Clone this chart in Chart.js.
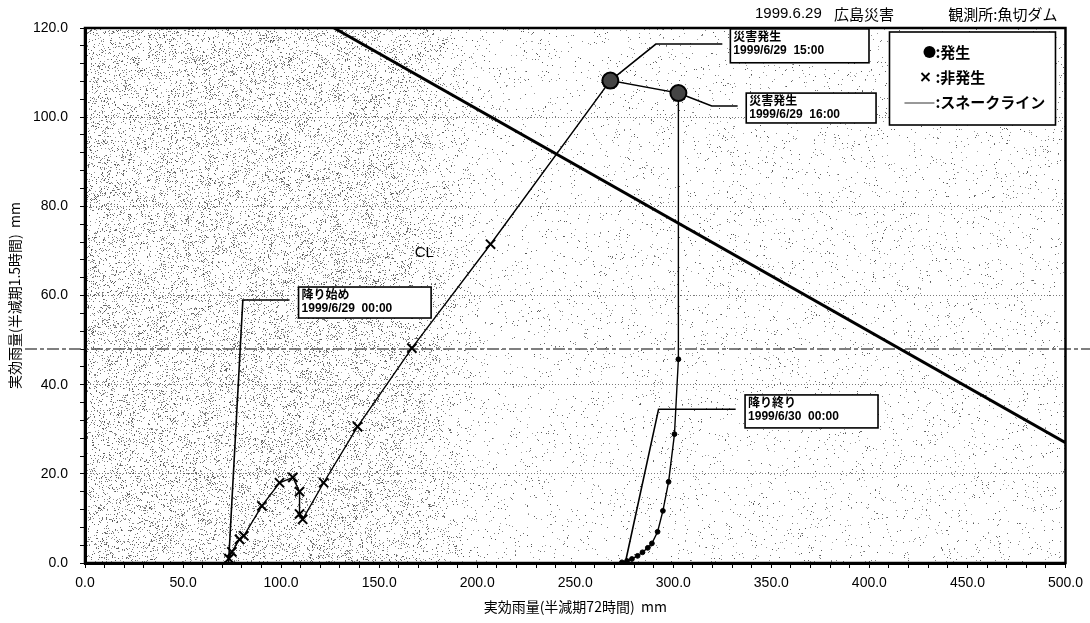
<!DOCTYPE html>
<html>
<head>
<meta charset="utf-8">
<script src="https://cdn.jsdelivr.net/npm/chart.js@4.4.1/dist/chart.umd.min.js"></script>
<style>
  html, body { margin: 0; padding: 0; background: #fff; }
  #wrap { width: 1090px; height: 623px; position: relative; }
</style>
</head>
<body>
<div id="wrap"><canvas id="c" width="1090" height="623"></canvas></div>
<script>
// 実効雨量の推移 (×: 非発生) 1999/6/29 00:00 以降
const rainX = [73.4, 74.9, 78.8, 81.0, 90.2, 99.2, 106.0, 109.4, 109.4, 111.0, 121.7, 139.0, 166.7, 206.8];
const rainY = [1.0, 2.5, 5.3, 6.1, 12.8, 18.0, 19.2, 16.0, 11.0, 9.8, 18.0, 30.6, 48.2, 71.5];
// 災害発生 (●) 15:00, 16:00
const hitX = [267.9, 302.6];
const hitY = [108.2, 105.4];
// 降雨終了に向けた減衰
const afterX = [302.6, 300.6, 297.6, 294.7, 292.0, 289.1, 287.0, 284.3, 281.8, 278.9, 276.4, 273.8];
const afterY = [45.7, 28.9, 18.2, 11.7, 7.0, 4.4, 3.4, 2.4, 1.6, 0.9, 0.45, 0.15];
// スネークライン (CL)
const snakeX = [127, 500];
const snakeY = [120, 27];
// 補助線
const refLineY = 48;
// 目盛
const xMajor = [0, 50, 100, 150, 200, 250, 300, 350, 400, 450, 500];
const yMajor = [0, 20, 40, 60, 80, 100, 120];
const xMinorStep = 10;
const yMinorStep = 4;

const titleDate = '1999.6.29';
const titleEvent = '広島災害';
const titleStation = '観測所:魚切ダム';
const xTitle = '実効雨量(半減期72時間)  mm';
const yTitle = '実効雨量(半減期1.5時間)  mm';
const legendLabels = [':発生', ':非発生', ':スネークライン'];

const pts = (xs, ys) => xs.map((x, i) => ({ x: x, y: ys[i] }));
const pathPts = pts(rainX, rainY).concat(pts(hitX, hitY), pts(afterX, afterY));

// 注記 (データ座標)
const notes = [
  { l1: '災害発生', l2: '1999/6/29  15:00', from: [hitX[0], hitY[0]], elbow: [291.1, 116.4], end: [325.0, 116.4], box: [329.1, 119.8, 399.8, 112.2] },
  { l1: '災害発生', l2: '1999/6/29  16:00', from: [hitX[1], hitY[1]], elbow: [319.6, 102.5], end: [332.8, 102.5], box: [337.2, 105.4, 403.4, 98.7] },
  { l1: '降り始め', l2: '1999/6/29  00:00', from: [73.2, 0], elbow: [80.5, 59.0], end: [104.3, 59.0], box: [108.9, 61.9, 176.5, 54.95] },
  { l1: '降り終り', l2: '1999/6/30  00:00', from: [275.5, 0], elbow: [292.5, 34.5], end: [331.8, 34.5], box: [336.6, 37.7, 404.4, 30.3] }
];
const clLabel = { text: 'CL', x: 173, y: 69.5 };
const shadeSplitX = 180;

const JP = '"Noto Sans CJK JP", "Noto Sans", sans-serif';
const LAT = '"Liberation Sans", Arial, sans-serif';

// 網点の背景
function hash(i, j, s) {
  let n = Math.imul(i, 374761393) + Math.imul(j, 668265263) + Math.imul(s, 144665);
  n = Math.imul(n ^ (n >>> 13), 1274126177);
  n = n ^ (n >>> 16);
  return (n >>> 0) / 4294967296;
}
function makeStipple(w, h, splitPx) {
  const cv = document.createElement('canvas');
  cv.width = w; cv.height = h;
  const g = cv.getContext('2d');
  const img = g.createImageData(w, h);
  const dense = 0.12, light = 0.022, fade = 90;
  for (let j = 0; j < h; j++) {
    for (let i = 0; i < w; i++) {
      const k = (j * w + i) * 4;
      let t = (i - splitPx) / fade;
      t = Math.max(0, Math.min(1, t + 0.5));
      const d = dense + (light - dense) * t;
      const cluster = 0.55 + 0.9 * hash(Math.floor(i / 7), Math.floor(j / 7), 11);
      let v = 255;
      if (hash(i, j, 1) < d * cluster) v = 80 + Math.floor(hash(j, i, 5) * 90);
      img.data[k] = v; img.data[k + 1] = v; img.data[k + 2] = v; img.data[k + 3] = 255;
    }
  }
  g.putImageData(img, 0, 0);
  return cv;
}

const decor = {
  id: 'decor',
  beforeDraw(chart) {
    const { ctx, chartArea: a, scales: { x } } = chart;
    const w = Math.round(a.right - a.left), h = Math.round(a.bottom - a.top);
    if (!chart.$stip || chart.$stip.width !== w || chart.$stip.height !== h) {
      chart.$stip = makeStipple(w, h, x.getPixelForValue(shadeSplitX) - a.left);
    }
    ctx.drawImage(chart.$stip, a.left, a.top);
  },
  beforeDatasetsDraw(chart) {
    const { ctx, scales: { x, y } } = chart;
    ctx.save();
    // 補助線
    const ry = y.getPixelForValue(refLineY);
    ctx.strokeStyle = '#555';
    ctx.lineWidth = 1.3;
    ctx.setLineDash([12, 3, 4, 3]);
    ctx.beginPath();
    ctx.moveTo(25, ry);
    ctx.lineTo(chart.width, ry);
    ctx.stroke();
    ctx.setLineDash([]);
    // 注記の引出線
    ctx.strokeStyle = '#000';
    ctx.lineWidth = 1.6;
    notes.forEach(n => {
      ctx.beginPath();
      ctx.moveTo(x.getPixelForValue(n.from[0]), y.getPixelForValue(n.from[1]));
      ctx.lineTo(x.getPixelForValue(n.elbow[0]), y.getPixelForValue(n.elbow[1]));
      ctx.lineTo(x.getPixelForValue(n.end[0]), y.getPixelForValue(n.end[1]));
      ctx.stroke();
    });
    ctx.restore();
  },
  afterDatasetsDraw(chart) {
    const { ctx, chartArea: a, scales: { x, y } } = chart;
    ctx.save();
    // 枠
    ctx.strokeStyle = '#000';
    ctx.lineWidth = 2.5;
    ctx.strokeRect(a.left, a.top, a.right - a.left, a.bottom - a.top);

    // 注記ボックス
    notes.forEach(n => {
      const l = x.getPixelForValue(n.box[0]), t = y.getPixelForValue(n.box[1]);
      const r = x.getPixelForValue(n.box[2]), b = y.getPixelForValue(n.box[3]);
      ctx.fillStyle = '#fff';
      ctx.fillRect(l, t, r - l, b - t);
      ctx.strokeStyle = '#000';
      ctx.lineWidth = 1.6;
      ctx.strokeRect(l, t, r - l, b - t);
      ctx.fillStyle = '#000';
      ctx.textBaseline = 'middle';
      ctx.textAlign = 'left';
      ctx.font = 'bold 12px ' + JP;
      ctx.fillText(n.l1, l + 3, t + 7.5);
      ctx.font = 'bold 12px ' + LAT;
      ctx.fillText(n.l2, l + 3, t + 21.5);
    });

    // CL
    ctx.fillStyle = '#000';
    ctx.font = '15px ' + LAT;
    ctx.textAlign = 'center';
    ctx.textBaseline = 'middle';
    ctx.fillText(clLabel.text, x.getPixelForValue(clLabel.x), y.getPixelForValue(clLabel.y));

    // 凡例
    const lx = a.right - 176, ly = a.top + 4, lw = 166, lh = 93;
    ctx.fillStyle = '#fff';
    ctx.fillRect(lx, ly, lw, lh);
    ctx.strokeStyle = '#000';
    ctx.lineWidth = 1.6;
    ctx.strokeRect(lx, ly, lw, lh);
    const rows = [ly + 20, ly + 45, ly + 70];
    ctx.fillStyle = '#000';
    ctx.beginPath();
    ctx.arc(lx + 40, rows[0], 6, 0, Math.PI * 2);
    ctx.fill();
    ctx.lineWidth = 1.8;
    ctx.beginPath();
    ctx.moveTo(lx + 32, rows[1] - 4); ctx.lineTo(lx + 40, rows[1] + 4);
    ctx.moveTo(lx + 40, rows[1] - 4); ctx.lineTo(lx + 32, rows[1] + 4);
    ctx.stroke();
    ctx.lineWidth = 1;
    ctx.strokeStyle = '#333';
    ctx.beginPath();
    ctx.moveTo(lx + 15, rows[2] + 1); ctx.lineTo(lx + 45, rows[2] + 1);
    ctx.stroke();
    ctx.font = 'bold 15px ' + JP;
    ctx.textAlign = 'left';
    legendLabels.forEach((t, i) => ctx.fillText(t, lx + 46, rows[i]));

    // 表題
    ctx.font = '15px ' + LAT;
    ctx.fillText(titleDate, a.left + 670, 14);
    ctx.font = '15px ' + JP;
    ctx.fillText(titleEvent, a.left + 749, 14);
    ctx.textAlign = 'right';
    ctx.fillText(titleStation, a.right - 8, 14);
    ctx.restore();
  }
};

const tickFont = { family: LAT, size: 14 };

new Chart(document.getElementById('c'), {
  type: 'scatter',
  data: {
    datasets: [
      {
        label: 'スネークライン',
        data: pts(snakeX, snakeY),
        showLine: true,
        borderColor: '#000',
        borderWidth: 3,
        pointRadius: 0,
        order: 5
      },
      {
        label: '経路',
        data: pathPts,
        showLine: true,
        borderColor: '#000',
        borderWidth: 1.4,
        pointRadius: 0,
        order: 4
      },
      {
        label: '非発生',
        data: pts(rainX, rainY),
        pointStyle: 'crossRot',
        pointRadius: 6.5,
        pointBorderWidth: 2,
        borderColor: '#000',
        backgroundColor: '#000',
        order: 3
      },
      {
        label: '減衰',
        data: pts(afterX, afterY),
        pointStyle: 'circle',
        pointRadius: 2.4,
        borderColor: '#000',
        backgroundColor: '#000',
        order: 2
      },
      {
        label: '発生',
        data: pts(hitX, hitY),
        pointStyle: 'circle',
        pointRadius: 8,
        pointBorderWidth: 2,
        borderColor: '#000',
        backgroundColor: '#444',
        order: 1
      }
    ]
  },
  options: {
    responsive: false,
    animation: false,
    events: [],
    layout: { padding: { top: 28, right: 22, left: 0, bottom: 0 } },
    plugins: { legend: { display: false }, title: { display: false }, tooltip: { enabled: false } },
    scales: {
      x: {
        type: 'linear',
        min: 0, max: 500,
        afterFit: s => { s.height = 60; },
        border: { display: true, color: '#000', width: 3 },
        grid: { color: 'rgba(0,0,0,0)', tickColor: '#000', tickLength: 5, tickWidth: 1 },
        ticks: {
          stepSize: xMinorStep,
          autoSkip: false,
          maxRotation: 0,
          padding: 7,
          color: '#000',
          font: tickFont,
          callback: v => xMajor.includes(v) ? v.toFixed(1) : ''
        },
        title: { display: true, text: xTitle, color: '#000', font: { family: JP, size: 14 }, padding: { top: 0, bottom: 8 } }
      },
      y: {
        type: 'linear',
        min: 0, max: 120,
        afterFit: s => { s.width = 85; },
        border: { display: true, color: '#000', width: 3, dash: [1, 2] },
        grid: {
          color: c => (c.tick && yMajor.includes(c.tick.value) && c.tick.value > 0 && c.tick.value < 120) ? 'rgba(90,90,90,0.8)' : 'rgba(0,0,0,0)',
          lineWidth: 1,
          tickColor: '#000',
          tickLength: 5,
          tickWidth: 1
        },
        ticks: {
          stepSize: yMinorStep,
          autoSkip: false,
          padding: 12,
          color: '#000',
          font: tickFont,
          callback: v => yMajor.includes(v) ? v.toFixed(1) : ''
        },
        title: { display: true, text: yTitle, color: '#000', font: { family: JP, size: 14 }, padding: { top: 6, bottom: 0 } }
      }
    }
  },
  plugins: [decor]
});
</script>
</body>
</html>
